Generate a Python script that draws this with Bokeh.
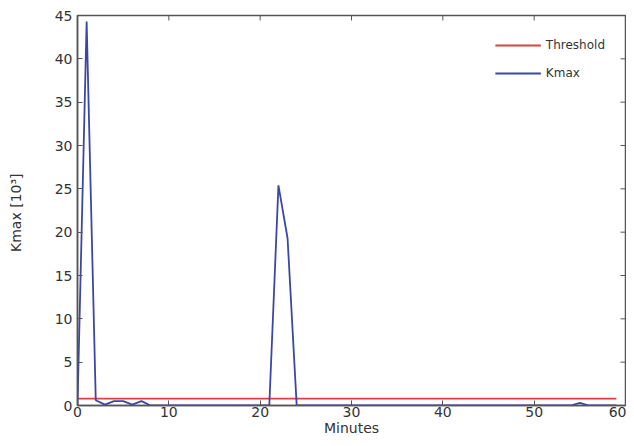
import math
from bokeh.plotting import figure
from bokeh.models import Range1d, FixedTicker, Legend, LegendItem
from bokeh.embed import file_html
from bokeh.resources import INLINE

minutes = list(range(0, 60))
kmax = [0.0, 44.3, 0.6, 0.1, 0.5, 0.5, 0.1, 0.5, 0.0, 0.0,
        0.0, 0.0, 0.0, 0.0, 0.0, 0.0, 0.0, 0.0, 0.0, 0.0,
        0.0, 0.0, 25.4, 19.3, 0.0, 0.0, 0.0, 0.0, 0.0, 0.0,
        0.0, 0.0, 0.0, 0.0, 0.0, 0.0, 0.0, 0.0, 0.0, 0.0,
        0.0, 0.0, 0.0, 0.0, 0.0, 0.0, 0.0, 0.0, 0.0, 0.0,
        0.0, 0.0, 0.0, 0.0, 0.0, 0.3, 0.0, 0.0, 0.0, 0.0]
threshold_value = 0.8
threshold = [threshold_value] * len(minutes)

x_ticks = [0, 10, 20, 30, 40, 50, 60]
y_ticks = [0, 5, 10, 15, 20, 25, 30, 35, 40, 45]
x_min, x_max = 0, 60
y_min, y_max = 0, 45

FONT = "DejaVu Sans"
AX_COLOR = "#555555"
TXT_COLOR = "#333333"

p = figure(width=626, height=438, output_backend="svg", toolbar_location=None,
           x_range=Range1d(x_min, x_max), y_range=Range1d(y_min, y_max),
           min_border_left=77, min_border_right=1, min_border_top=15, min_border_bottom=2,
           x_axis_label="Minutes", y_axis_label="Kmax  [10³]")
p.xgrid.visible = False
p.ygrid.visible = False
p.outline_line_color = AX_COLOR
p.outline_line_width = 1.5
p.background_fill_color = "white"
p.border_fill_color = "white"

for ax, ticks in ((p.xaxis[0], x_ticks), (p.yaxis[0], y_ticks)):
    ax.ticker = FixedTicker(ticks=ticks)
    ax.major_tick_in = 5
    ax.major_tick_out = 0
    ax.minor_tick_line_color = None
    ax.axis_line_color = AX_COLOR
    ax.axis_line_width = 1.5
    ax.major_tick_line_color = AX_COLOR
    ax.major_label_text_font = FONT
    ax.major_label_text_color = TXT_COLOR
    ax.major_label_text_font_size = "14px"
    ax.axis_label_text_font = FONT
    ax.axis_label_text_color = TXT_COLOR
    ax.axis_label_text_font_size = "14px"
    ax.axis_label_text_font_style = "normal"

p.xaxis[0].major_label_standoff = 1
p.xaxis[0].axis_label_standoff = 0
p.yaxis[0].major_label_standoff = 5
p.yaxis[0].axis_label_standoff = 28

# inside ticks on the top and right edges of the frame
p.ray(x=x_ticks, y=[y_max] * len(x_ticks), length=5, length_units="screen",
      angle=-math.pi / 2, line_color=AX_COLOR, line_width=1)
p.ray(x=[x_max] * len(y_ticks), y=y_ticks, length=5, length_units="screen",
      angle=math.pi, line_color=AX_COLOR, line_width=1)

r_thr = p.line(minutes, threshold, line_color="#d9423f", line_width=1.8)
r_k = p.line(minutes, kmax, line_color="#3a47a6", line_width=1.8)

legend = Legend(items=[LegendItem(label="Threshold", renderers=[r_thr]),
                       LegendItem(label="Kmax", renderers=[r_k])],
                location="top_right")
legend.border_line_color = None
legend.background_fill_alpha = 0
legend.label_text_font = FONT
legend.label_text_font_size = "12px"
legend.label_text_color = TXT_COLOR
legend.glyph_width = 46
legend.spacing = 8
legend.margin = 20
p.add_layout(legend)

open("out.html", "w").write(file_html(p, INLINE))
